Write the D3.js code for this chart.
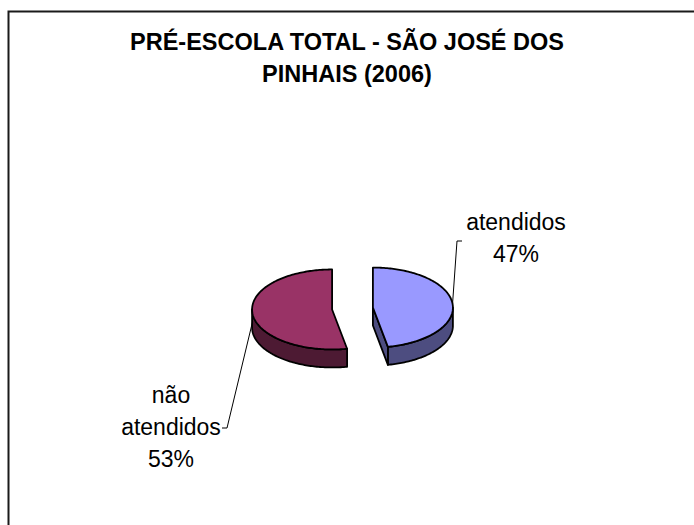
<!DOCTYPE html>
<html>
<head>
<meta charset="utf-8">
<script src="https://cdn.jsdelivr.net/npm/d3@7"></script>
<style>
  html, body { margin: 0; padding: 0; background: #ffffff; overflow: hidden; }
  svg { display: block; }
</style>
</head>
<body>
<script>
// Pré-escola: share of children attended / not attended, São José dos Pinhais, 2006
const titleLines = ["PRÉ-ESCOLA TOTAL - SÃO JOSÉ DOS", "PINHAIS (2006)"];
const categories = ["atendidos", "não atendidos"];
const shares = [47, 53];
const topColors = ["#9999FF", "#993366"];
const sideColors = ["#4D4D80", "#4D1A33"];

const W = 694, H = 525;
const svg = d3.select("body").append("svg")
  .attr("width", W).attr("height", H)
  .style("font-family", "'Liberation Sans', Arial, sans-serif");

// chart area frame (runs off the right and bottom edges)
svg.append("rect")
  .attr("x", 8.5).attr("y", 11.5)
  .attr("width", W + 20).attr("height", H + 20)
  .attr("fill", "#fff").attr("stroke", "#1a1a1a").attr("stroke-width", 2);

// title
svg.append("text")
  .attr("text-anchor", "middle")
  .attr("font-weight", "bold").attr("font-size", 23.5)
  .selectAll("tspan").data(titleLines).join("tspan")
  .attr("x", 347).attr("y", (d, i) => 50 + i * 32)
  .text(d => d);

// 3D pie geometry: tilted ellipse + slab thickness
const cx = 352.5, cy = 308.5;
const rx = 80, ry = 40, depth = 18, explode = 20.5;

const pie = d3.pie().sort(null).value(d => d)
  .startAngle(0).endAngle(2 * Math.PI);
const arcs = pie(shares);

// project an angle (clockwise from 12 o'clock) onto the ellipse
const pt = (c, a, dz = 0) => [c[0] + rx * Math.sin(a), c[1] - ry * Math.cos(a) + dz];

function arcPoints(c, a0, a1, dz = 0) {
  const n = Math.max(2, Math.ceil(Math.abs(a1 - a0) / 0.02));
  return d3.range(n + 1).map(i => pt(c, a0 + (a1 - a0) * i / n, dz));
}
const line = d3.line();

const g = svg.append("g")
  .attr("stroke", "#000").attr("stroke-width", 1.8).attr("stroke-linejoin", "round");

const centers = arcs.map(d => {
  const mid = (d.startAngle + d.endAngle) / 2;
  return [cx + explode * Math.sin(mid), cy - explode * Math.cos(mid) * ry / rx];
});

arcs.forEach((d, i) => {
  const c = centers[i];
  const a0 = d.startAngle, a1 = d.endAngle;

  // outer wall: only the front half (3 o'clock to 9 o'clock) faces the viewer
  const s = Math.max(a0, Math.PI / 2), e = Math.min(a1, 3 * Math.PI / 2);
  if (e > s) {
    const top = arcPoints(c, s, e);
    const bot = arcPoints(c, e, s, depth);
    g.append("path").attr("d", line(top.concat(bot)) + "Z").attr("fill", sideColors[i]);
  }

  // radial cut faces facing the viewer
  [[a0, a0 - Math.PI / 2], [a1, a1 + Math.PI / 2]].forEach(([a, nrm]) => {
    if (Math.cos(nrm - Math.PI) > 0.01) {
      const p = pt(c, a);
      const quad = [c, p, [p[0], p[1] + depth], [c[0], c[1] + depth]];
      g.append("path").attr("d", line(quad) + "Z").attr("fill", sideColors[i]);
    }
  });

  // top face
  const topFace = [c].concat(arcPoints(c, a0, a1));
  g.append("path").attr("d", line(topFace) + "Z").attr("fill", topColors[i]);
});

// data labels with leader lines
const labelFont = 23;
const labels = [
  { lines: ["atendidos", shares[0] + "%"], x: 516, y: 230, anchorDz: 0,
    elbow: [[457, 241], [462, 241]] },
  { lines: ["não", "atendidos", shares[1] + "%"], x: 171, y: 403, anchorDz: depth / 2,
    elbow: [[227, 428], [222, 428]] }
];

labels.forEach((L, i) => {
  const d = arcs[i];
  const mid = (d.startAngle + d.endAngle) / 2;
  const start = pt(centers[i], mid, L.anchorDz);
  svg.append("path")
    .attr("d", line([start].concat(L.elbow)))
    .attr("fill", "none").attr("stroke", "#000").attr("stroke-width", 1);
  svg.append("text")
    .attr("text-anchor", "middle").attr("font-size", labelFont).attr("fill", "#000")
    .selectAll("tspan").data(L.lines).join("tspan")
    .attr("x", L.x).attr("y", (t, k) => L.y + k * 32)
    .text(t => t);
});
</script>
</body>
</html>
